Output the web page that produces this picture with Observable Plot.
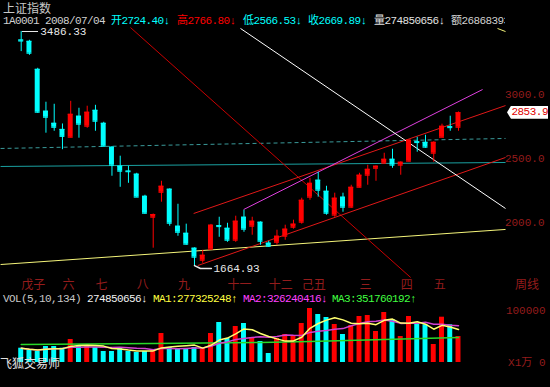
<!DOCTYPE html>
<html><head><meta charset="utf-8">
<script src="https://cdn.jsdelivr.net/npm/d3@7"></script>
<script src="https://cdn.jsdelivr.net/npm/@observablehq/plot@0.6"></script>
<style>
html,body{margin:0;padding:0;background:#000;}
#wrap{position:relative;width:550px;height:387px;overflow:hidden;background:#000;font-family:"Liberation Mono","DejaVu Sans Mono","Noto Sans CJK SC",monospace;}
#wrap svg{position:absolute;left:0;}
.t{position:absolute;white-space:pre;font-size:11px;line-height:13px;letter-spacing:-0.6px;}
.cj{font-family:"Noto Sans CJK SC",sans-serif;letter-spacing:0;line-height:14px;}
</style></head><body><div id="wrap"></div>
<script>
// ---- weekly candles (price) ----
const open  = [3420,3410,3192,2866,2772,2724.40,2663,2827,2749,2873,2772,2586,2438,2400,2376,2204,2041,2235,2259,1971,1916,1800,1706,1792,1975,1955,1862,2041,1971,2002,1839,1846,1893,1963,2002,2197,2329,2243,2057,2197,2119,2274,2368,2422,2461,2492,2446,2477,2628,2624,2539,2663,2745,2741];
const high  = [3486.33,3418,3200,2936,2920,2766.80,2943,2889,2905,2912,2780,2590,2516,2438,2383,2212,2066,2321,2262,2142,1987,1803,1784,1985,2041,1994,2049,2095,2041,2005,1854,1940,1979,2018,2189,2344,2391,2282,2228,2228,2290,2383,2446,2440,2539,2570,2472,2645,2663,2679,2628,2765,2827,2860];
const low   = [3330,3301,2850,2695,2710,2566.53,2660,2656,2733,2710,2590,2360,2274,2305,2195,2064,1800,2158,1971,1893,1823,1664.93,1683,1788,1885,1846,1846,1924,1901,1823,1808,1823,1862,1948,1987,2173,2197,2057,2041,2080,2111,2270,2290,2321,2458,2422,2368,2470,2547,2578,2469,2660,2710,2710];
const close = [3412,3317,2858,2819,2741,2669.89,2842,2765,2858,2788,2593,2446,2399,2395,2197,2072,2062,2282,1994,1924,1831,1730,1745,1979,1968,1862,2010,1948,2010,1854,1815,1893,1948,1987,2173,2305,2251,2072,2189,2119,2274,2368,2414,2438,2492,2446,2469,2640,2622,2586,2624,2749,2738,2853.9];
// volume in 万 shares
const volume = [27500,23077,21154,30769,30769,27485.0656,44231,30769,32692,28846,21154,21154,26923,21154,19231,21154,23077,55769,28846,26923,26923,28846,26923,55769,76923,46154,69231,75000,48077,40385,17308,46154,53846,50000,75000,103846,92308,86538,73077,53846,71154,88462,90385,59615,96154,82692,50000,88462,74423,72500,34615,87115,72500,50000];
// long (134) volume average
const ma3Index = [1,17,30,36,45,54];
const ma3Value = [34615,36538,38462,40385,44231,48077];

// month labels under the candles
const monthIndex  = [1,6,10,15,20,26,31,35,42,47,51];
const monthLabels = ["戊子","六","七","八","九","十一","十二","己丑","三","四","五"];
const priceTicks = [2000,2500,3000];
const volTicks = [0,100000];

// drawn analysis lines [candle index 1, price 1, candle index 2, price 2]
const lineLongSupport = [-1.5,1673,59.7,1946];
const lineHoriz       = [-1.5,2436,59.7,2467];
const lineHorizDash   = [-1.5,2576,59.7,2654];
const lineDown        = [14.25,3517,48.2,1572];
const lineChanUp      = [21.9,2070,59.7,2910];
const lineChanLow     = [22.4,1665,59.7,2506];
const lineFan         = [27.96,2101,56.92,3035];
const lineWhite       = [27.58,3510,59.7,2109];
const lineTopYellow   = [58.73,3510,59.7,3486];

// cursor readout
const cursorDate = "2008/07/04", cursorIdx = 6;
const cursorAmt = "268683939";
const ma1Read = "277325248", ma2Read = "326240416", ma3Read = "351760192";

const RED = "#ff0000", CYAN = "#00ffff", AX = "#941c1c";
const candles = open.map((o,k)=>({i:k+1,o,h:high[k],l:low[k],c:close[k],v:volume[k]}));
const col = d => d.c > d.o ? RED : CYAN;
const link = (a,opt) => Plot.link([a],{x1:d=>d[0],y1:d=>d[1],x2:d=>d[2],y2:d=>d[3],...opt});
const hw = 0.3;
const n = open.length;
const xs = {domain:[1,n],range:[20.7,458],axis:null,label:null};

const lowK = d3.minIndex(low), highK = d3.maxIndex(high);
const main = Plot.plot({
  width:550,height:292,marginLeft:0,marginRight:45,marginTop:0,marginBottom:16,
  style:{background:"#000",color:AX,fontFamily:"Liberation Mono, Noto Sans CJK SC, monospace",fontSize:"10px",overflow:"visible"},
  x:xs,
  y:{domain:[2000,3000],range:[222,93.5],axis:null,label:null},
  marks:[
    link(lineHorizDash,{stroke:"#3a9a9a",strokeDasharray:"4,3"}),
    link(lineHoriz,{stroke:"#1aa0a0"}),
    link(lineLongSupport,{stroke:"#f4f47a"}),
    link(lineDown,{stroke:"#c80000"}),
    link(lineChanUp,{stroke:"#e01818"}),
    link(lineChanLow,{stroke:"#e01818"}),
    link(lineFan,{stroke:"#e040e0"}),
    link(lineWhite,{stroke:"#ffffff"}),
    link(lineTopYellow,{stroke:"#f4f47a"}),
    Plot.ruleX(candles,{x:"i",y1:"l",y2:"h",stroke:col}),
    Plot.rect(candles,{x1:d=>d.i-hw,x2:d=>d.i+hw,y1:"o",y2:"c",fill:col}),
    Plot.ruleY(candles,{y:"o",x1:d=>d.i-hw,x2:d=>d.i+hw,stroke:col}),
    Plot.ruleY(candles,{y:"c",x1:d=>d.i-hw,x2:d=>d.i+hw,stroke:col}),
    // high / low annotations
    Plot.ruleY([candles[highK]],{y:"h",x1:d=>d.i+0.15,x2:d=>d.i+2.1,stroke:"#e8e8e8"}),
    Plot.text([candles[highK]],{x:"i",y:"h",text:d=>d.h.toFixed(2),dx:19,textAnchor:"start",fill:"#e8e8e8",fontSize:11}),
    Plot.line([[lowK+1,low[lowK]],[lowK+1.73,low[lowK]-23],[lowK+3.05,low[lowK]-23]],{x:d=>d[0],y:d=>d[1],stroke:"#e8e8e8"}),
    Plot.text([candles[lowK]],{x:"i",y:"l",text:d=>d.l.toFixed(2),dx:19,dy:3,textAnchor:"start",fill:"#e8e8e8",fontSize:11}),
    // axis labels
    Plot.text(priceTicks,{y:d=>d,text:d=>d.toFixed(1),frameAnchor:"right",textAnchor:"end",dx:39,fill:AX,fontSize:11}),
    Plot.text(monthIndex,{x:d=>d,text:(d,k)=>monthLabels[k],frameAnchor:"bottom",textAnchor:"start",dy:12,fill:AX,fontSize:12,fontFamily:"Noto Sans CJK SC"})
  ]
});
main.style.top = "0px";

const ma = w => volume.map((_,k)=>d3.mean(volume.slice(Math.max(0,k-w+1),k+1)));
const ma1 = ma(5), ma2 = ma(10);
const vol = Plot.plot({
  width:550,height:100,marginLeft:0,marginRight:45,marginTop:0,marginBottom:0,
  style:{background:"transparent",color:AX,fontFamily:"Liberation Mono, Noto Sans CJK SC, monospace",fontSize:"10px",overflow:"visible"},
  x:xs,
  y:{domain:[0,100000],range:[75,23],axis:null,label:null},
  marks:[
    Plot.rect(candles,{x1:d=>d.i-hw,x2:d=>d.i+hw,y1:0,y2:"v",fill:col}),
    Plot.line(ma3Index,{x:d=>d,y:(d,k)=>ma3Value[k],stroke:"#28d828"}),
    Plot.line(ma2,{x:(d,k)=>k+1,y:d=>d,stroke:"#d040d0"}),
    Plot.line(ma1,{x:(d,k)=>k+1,y:d=>d,stroke:"#ffff70"}),
    Plot.text(volTicks,{y:d=>d,text:d=>d?String(d):"X1万 0",frameAnchor:"right",textAnchor:"end",dx:40,fill:AX,fontSize:11})
  ]
});
vol.style.top = "287px";

const wrap = document.getElementById("wrap");
wrap.appendChild(main);
wrap.appendChild(vol);

function label(txt,left,top,color,extra){
  const d=document.createElement("div");
  d.className="t"+(extra&&extra.cls?" "+extra.cls:"");
  d.textContent=txt;d.style.left=left+"px";d.style.top=top+"px";d.style.color=color;
  if(extra&&extra.size)d.style.fontSize=extra.size+"px";
  if(extra&&extra.lh)d.style.lineHeight=extra.lh+"px";
  if(extra&&extra.width){d.style.width=extra.width+"px";d.style.overflow="hidden";}
  wrap.appendChild(d);return d;
}
const c = candles[cursorIdx-1];
label("上证指数",3,2,"#c8c8c8",{cls:"cj",size:12,lh:12});
const r2 = 15;
label("1A0001 "+cursorDate,3,r2,"#d0d0d0");
label("开"+c.o.toFixed(2)+"↓",111,r2,CYAN);
label("高"+c.h.toFixed(2)+"↓",177,r2,RED);
label("低"+c.l.toFixed(2)+"↓",243,r2,CYAN);
label("收"+c.c.toFixed(2)+"↓",308,r2,CYAN);
label("量"+Math.round(c.v*10000)+"↓",374,r2,"#e0e0e0");
label("额"+cursorAmt,451,r2,"#d0d0d0",{width:54});
label("VOL(5,10,134)",3,293,"#c8c8c8");
label(Math.round(c.v*10000)+"↓",87,293,"#f0f0f0");
label("MA1:"+ma1Read+"↑",153,293,"#ffff40");
label("MA2:"+ma2Read+"↓",243,293,"#ff40ff");
label("MA3:"+ma3Read+"↑",332,293,"#40ff40");
label("飞狐交易师",0,356,"#e0e0e0",{cls:"cj",size:12});
label("周线",515,277,AX,{cls:"cj",size:12});

// last price tag
const ly = main.scale("y").apply(close[n-1]);
const tag = document.createElement("div");
tag.textContent = close[n-1].toFixed(1);
Object.assign(tag.style,{position:"absolute",left:"507px",top:(ly-6.5)+"px",width:"41px",height:"13px",background:"#fff",color:"#e00000",fontSize:"11px",lineHeight:"13px",textAlign:"right",boxSizing:"border-box",letterSpacing:"-0.5px",clipPath:"polygon(0 50%,4px 0,100% 0,100% 100%,4px 100%)"});
wrap.appendChild(tag);
</script>
</body></html>
